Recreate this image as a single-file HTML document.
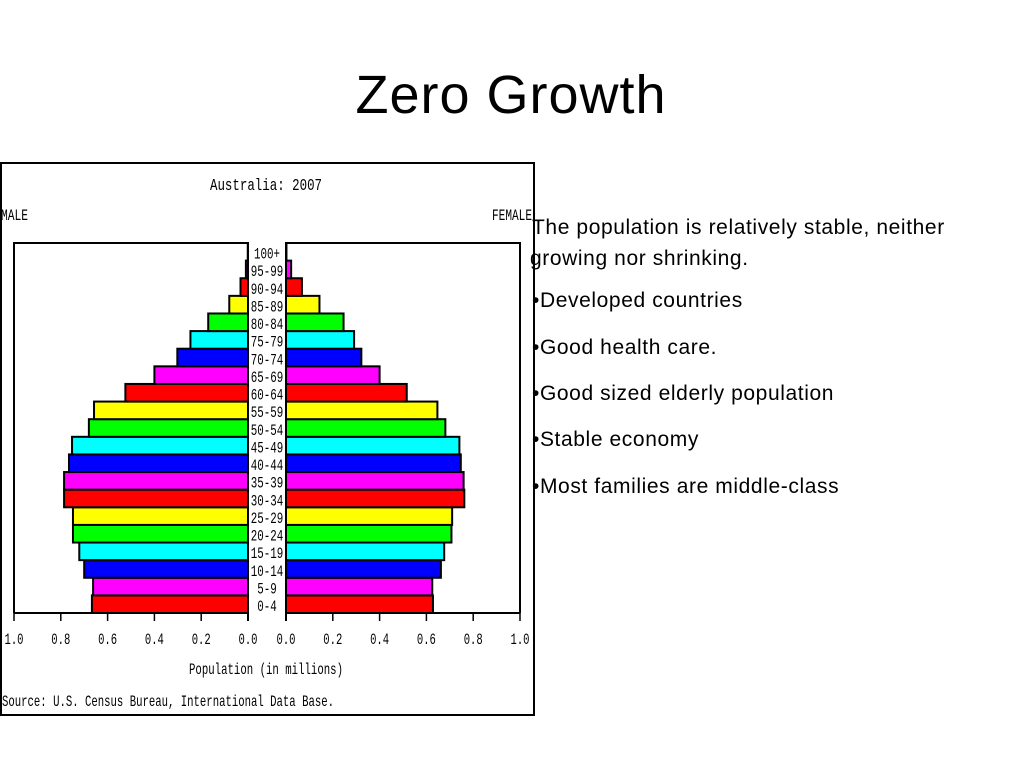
<!DOCTYPE html>
<html><head><meta charset="utf-8"><style>
body{margin:0;width:1024px;height:768px;background:#fff;position:relative;overflow:hidden;font-family:"Liberation Sans",sans-serif}
.t{position:absolute;left:532px;font-size:21px;letter-spacing:0.6px;color:#000;white-space:nowrap}
</style></head><body>
<div style="position:absolute;left:0;width:1022px;top:64px;text-align:center;font-size:54px;letter-spacing:1px">Zero Growth</div>
<svg id="chart" width="1024" height="768" style="position:absolute;left:0;top:0" font-family="Liberation Mono, monospace"></svg>
<div class="t" style="top:212px;line-height:31px">The population is relatively stable, neither<br><span style="margin-left:-2px">growing nor shrinking.</span></div>
<div class="t" style="top:289px">•Developed countries</div>
<div class="t" style="top:336px">•Good health care.</div>
<div class="t" style="top:382px">•Good sized elderly population</div>
<div class="t" style="top:428px">•Stable economy</div>
<div class="t" style="top:475px">•Most families are middle-class</div>
<script>
const ageGroups=["0-4","5-9","10-14","15-19","20-24","25-29","30-34","35-39","40-44","45-49","50-54","55-59","60-64","65-69","70-74","75-79","80-84","85-89","90-94","95-99","100+"];
const maleValues=[0.667,0.662,0.70,0.721,0.748,0.748,0.786,0.786,0.765,0.752,0.68,0.658,0.524,0.40,0.302,0.246,0.17,0.08,0.032,0.009,0.001];
const femaleValues=[0.628,0.625,0.662,0.676,0.707,0.71,0.762,0.759,0.747,0.741,0.681,0.647,0.516,0.40,0.322,0.291,0.246,0.143,0.068,0.022,0.002];
const tickLabels=["0.0","0.2","0.4","0.6","0.8","1.0"];
const tickValues=[0,0.2,0.4,0.6,0.8,1.0];
const colors=["#ff0000","#ff00ff","#0000ff","#00ffff","#00ff00","#ffff00"];
const svg=document.getElementById('chart');
const NS="http://www.w3.org/2000/svg";
function mk(tag,attrs,parent){const e=document.createElementNS(NS,tag);for(const k in attrs)e.setAttribute(k,attrs[k]);(parent||svg).appendChild(e);return e;}
const mZero=248,fZero=286,unit=234,plotTop=243,plotBottom=613;
const rowH=(plotBottom-plotTop)/ageGroups.length;
const xm=v=>mZero-v*unit, xf=v=>fZero+v*unit;
const yRow=i=>plotBottom-(i+1)*rowH;
let e;
e=mk('rect',{x:1,y:163,width:533,height:552,fill:'#fff',stroke:'#000','stroke-width':2});


e=mk('text',{x:266,y:190,'font-size':17,'text-anchor':'middle',textLength:112,lengthAdjust:'spacingAndGlyphs'});e.textContent="Australia: 2007";


e=mk('text',{x:1,y:220,'font-size':16,textLength:27,lengthAdjust:'spacingAndGlyphs'});e.textContent="MALE";


e=mk('text',{x:492,y:220,'font-size':16,textLength:40,lengthAdjust:'spacingAndGlyphs'});e.textContent="FEMALE";


for(let i=0;i<ageGroups.length;i++){
  const y=yRow(i);
  e=mk('rect',{x:xm(maleValues[i]),y:y,width:mZero-xm(maleValues[i]),height:rowH,fill:colors[i%6],stroke:'#000','stroke-width':2});
  
  
  e=mk('rect',{x:fZero,y:y,width:xf(femaleValues[i])-fZero,height:rowH,fill:colors[i%6],stroke:'#000','stroke-width':2});
  
  
}
mk('path',{d:`M${xm(1)} ${plotBottom}V${plotTop}H${mZero}V${plotBottom+8}M${xm(1)} ${plotBottom}H${mZero}`,fill:'none',stroke:'#000','stroke-width':2});
mk('path',{d:`M${xf(1)} ${plotBottom}V${plotTop}H${fZero}V${plotBottom+8}M${xf(1)} ${plotBottom}H${fZero}`,fill:'none',stroke:'#000','stroke-width':2});
mk('rect',{x:mZero+1,y:plotTop,width:fZero-mZero-2,height:plotBottom-plotTop,fill:'#fff'});
for(let i=0;i<ageGroups.length;i++){
  e=mk('text',{x:267,y:yRow(i)+rowH-2,'font-size':16,'text-anchor':'middle',textLength:ageGroups[i].length*6.5,lengthAdjust:'spacingAndGlyphs'});
  e.textContent=ageGroups[i];
  
  
}
for(let k=0;k<tickValues.length;k++){
  const a=xm(tickValues[k]),b=xf(tickValues[k]);
  mk('line',{x1:a,x2:a,y1:plotBottom,y2:plotBottom+8,stroke:'#000','stroke-width':1.5});
  mk('line',{x1:b,x2:b,y1:plotBottom,y2:plotBottom+8,stroke:'#000','stroke-width':1.5});
  e=mk('text',{x:a,y:644,'font-size':16,'text-anchor':'middle',textLength:19,lengthAdjust:'spacingAndGlyphs'});e.textContent=tickLabels[k];
  
  
  e=mk('text',{x:b,y:644,'font-size':16,'text-anchor':'middle',textLength:19,lengthAdjust:'spacingAndGlyphs'});e.textContent=tickLabels[k];
  
  
}
e=mk('text',{x:266,y:674,'font-size':16,'text-anchor':'middle',textLength:154,lengthAdjust:'spacingAndGlyphs'});e.textContent="Population (in millions)";


e=mk('text',{x:2,y:706,'font-size':16,textLength:332,lengthAdjust:'spacingAndGlyphs'});e.textContent="Source: U.S. Census Bureau, International Data Base.";


</script>
</body></html>
